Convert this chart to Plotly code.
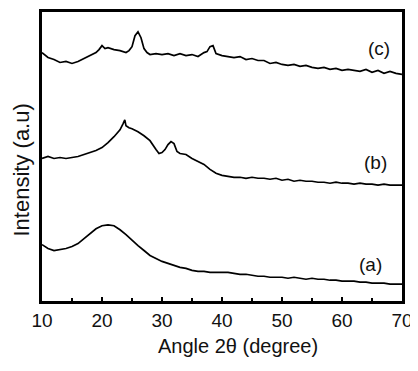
import plotly.graph_objects as go

# Angle 2θ (degree) and intensities (a.u.)
angle_a = [10, 11, 12, 13, 14, 15, 16, 17, 18, 19, 20, 21, 22, 23, 24, 25, 26, 27, 28, 29,
           30, 31, 32, 33, 34, 35, 36, 37, 38, 39, 40, 41, 42, 43, 44, 45, 46, 47, 48, 49,
           50, 51, 52, 53, 54, 55, 56, 57, 58, 59, 60, 61, 62, 63, 64, 65, 66, 67, 68, 69, 70]
int_a = [57, 53, 51, 52, 53, 55, 58, 63, 68, 73, 76, 77, 76, 72, 67, 61, 56, 51, 46, 43,
         40, 38, 36, 34, 33, 31, 30, 30, 29, 29, 29, 29, 28, 27, 27, 26, 25, 25, 24, 24,
         24, 23, 24, 23, 22, 23, 22, 22, 21, 21, 20, 20, 20, 19, 19, 18, 18, 18, 17, 17, 17]

angle_b = [10, 11, 12, 13, 14, 15, 16, 17, 18, 19, 20, 21, 22, 22.5, 23, 23.5, 23.8, 24, 24.5,
           25, 26, 27, 28, 29, 29.5, 30, 30.5, 31, 31.5, 32, 32.5, 33, 34, 35, 36, 37, 38, 39,
           40, 41, 42, 43, 44, 45, 46, 47, 48, 49, 50, 51, 52, 53, 54, 55, 56, 57, 58, 59,
           60, 61, 62, 63, 64, 65, 66, 67, 68, 69, 70]
int_b = [144, 146, 144, 145, 144, 145, 146, 148, 150, 152, 155, 160, 166, 169, 173, 179, 183, 177, 175,
         174, 171, 167, 162, 153, 149, 150, 153, 158, 161, 159, 151, 149, 148, 144, 141, 138, 133, 129,
         127, 126, 125, 125, 124, 125, 124, 124, 123, 124, 122, 123, 121, 122, 121, 121, 120, 120, 119, 120,
         119, 119, 118, 119, 118, 118, 117, 118, 117, 117, 117]

angle_c = [10, 10.5, 11, 12, 13, 14, 15, 16, 17, 18, 19, 19.5, 20, 20.5, 21, 22, 23, 24, 24.5,
           25, 25.5, 26, 26.5, 27, 27.5, 28, 29, 30, 31, 32, 33, 34, 35, 36, 37, 37.5, 38, 38.5,
           39, 40, 41, 42, 43, 44, 45, 46, 47, 48, 49, 50, 51, 52, 53, 54, 55, 56, 57, 58,
           59, 60, 61, 62, 63, 64, 65, 66, 67, 68, 69, 70]
int_c = [251, 248, 246, 244, 241, 242, 240, 242, 245, 248, 251, 254, 258, 255, 256, 254, 253, 251, 253,
         257, 268, 272, 266, 255, 251, 249, 250, 249, 250, 248, 250, 248, 249, 247, 251, 252, 257, 258,
         250, 248, 247, 246, 247, 244, 245, 243, 243, 240, 241, 239, 238, 239, 237, 238, 236, 235, 236, 234,
         235, 233, 234, 233, 232, 234, 231, 233, 230, 232, 230, 229]

labels = ["(a)", "(b)", "(c)"]
label_x = [64.7, 65.5, 66.2]
label_y = [37, 140, 255]

x_ticks = [10, 20, 30, 40, 50, 60, 70]

FONT = "Arial, Liberation Sans, sans-serif"

fig = go.Figure()
for xs, ys in [(angle_a, int_a), (angle_b, int_b), (angle_c, int_c)]:
    fig.add_trace(go.Scatter(x=xs, y=ys, mode="lines",
                             line=dict(color="black", width=1.7), showlegend=False))

for t, lx, ly in zip(labels, label_x, label_y):
    fig.add_annotation(x=lx, y=ly, text=t, showarrow=False,
                       xanchor="center", yanchor="middle",
                       font=dict(size=19, color="#111111", family=FONT))

fig.add_annotation(xref="paper", yref="paper", x=-0.058, y=0.452, text="Intensity (a.u)",
                   textangle=-90, showarrow=False, xanchor="center", yanchor="middle",
                   font=dict(size=22, color="#111111", family=FONT))
fig.add_annotation(xref="paper", yref="paper", x=0.544, y=-0.155, text="Angle 2θ (degree)",
                   showarrow=False, xanchor="center", yanchor="middle",
                   font=dict(size=20, color="#111111", family=FONT))

# the page body adds an 8px offset, so the figure is 8px smaller and margins shifted
fig.update_layout(
    width=410, height=363,
    margin=dict(l=34, r=16, t=1, b=70),
    plot_bgcolor="white", paper_bgcolor="white",
    font=dict(family=FONT, color="#111111"),
    xaxis=dict(range=[10, 70], tickvals=x_ticks, ticktext=[str(v) for v in x_ticks],
               showgrid=False, zeroline=False, showline=True, linecolor="black", linewidth=2.5,
               mirror=True, ticks="inside", ticklen=4, tickwidth=1.5, tickcolor="black",
               tickfont=dict(size=19, color="#111111"),
               minor=dict(tickvals=[15, 25, 35, 45, 55, 65], ticks="inside", ticklen=3,
                          tickwidth=1.5, tickcolor="black")),
    yaxis=dict(range=[0, 292], showticklabels=False, showgrid=False, zeroline=False,
               showline=True, linecolor="black", linewidth=2.5, mirror=True, ticks=""),
)

fig.write_html("out.html")
